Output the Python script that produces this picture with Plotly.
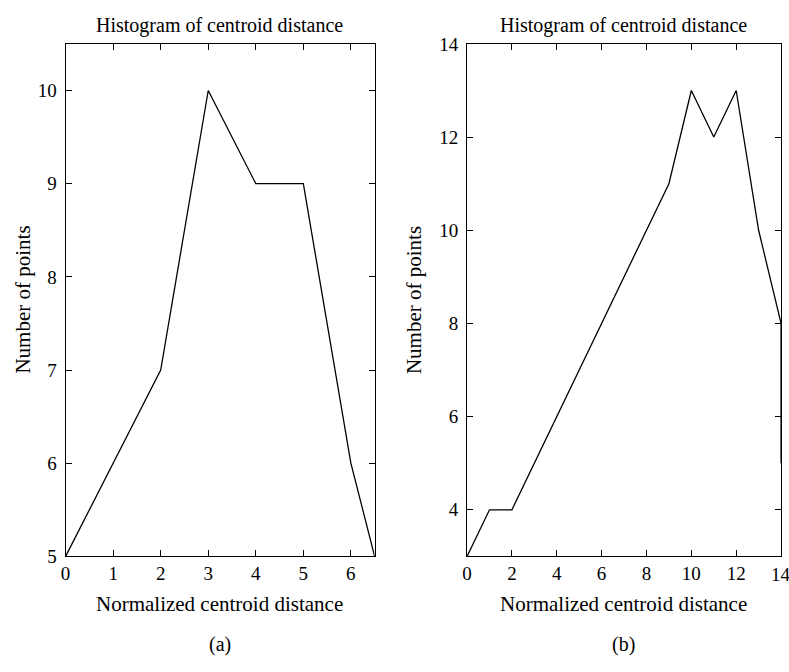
import plotly.graph_objects as go

# Panel (a)
xa = [0, 1, 2, 3, 4, 5, 6, 6.5]
ya = [5, 6, 7, 10, 9, 9, 6, 5]
# Panel (b)
xb = [0, 1, 2, 3, 4, 5, 6, 7, 8, 9, 10, 11, 12, 13, 14, 14]
yb = [3, 4, 4, 5, 6, 7, 8, 9, 10, 11, 13, 12, 13, 10, 8, 5]

xticks_a = [0, 1, 2, 3, 4, 5, 6]
yticks_a = [5, 6, 7, 8, 9, 10]
xticks_b = [0, 2, 4, 6, 8, 10, 12, 14]
yticks_b = [4, 6, 8, 10, 12, 14]

title_text = "Histogram of centroid distance"
xtitle = "Normalized centroid distance"
ytitle = "Number of points"
FONT = "Liberation Serif"

fig = go.Figure()
fig.add_trace(go.Scatter(x=xa, y=ya, mode="lines", line=dict(color="black", width=1.3),
                         xaxis="x", yaxis="y", showlegend=False, cliponaxis=True))
fig.add_trace(go.Scatter(x=xb, y=yb, mode="lines", line=dict(color="black", width=1.3),
                         xaxis="x2", yaxis="y2", showlegend=False, cliponaxis=True))

H = 672
W = 789
ydom = [1 - 564 / H, 1 - 35 / H]
tickfont = dict(family=FONT, size=19, color="black")
axis_common = dict(showline=True, linecolor="black", linewidth=1.2, mirror="ticks",
                   ticks="inside", ticklen=6, tickcolor="black", showgrid=False,
                   zeroline=False, tickfont=tickfont)

fig.update_layout(
    width=W, height=H, margin=dict(l=0, r=0, t=0, b=0),
    paper_bgcolor="white", plot_bgcolor="white",
    xaxis=dict(domain=[61 / W, 372 / W], range=[0, 6.5], tickvals=xticks_a,
               anchor="y", ticklabelstandoff=0, **axis_common),
    yaxis=dict(domain=ydom, range=[5, 10.5], tickvals=yticks_a,
               anchor="x", ticklabelstandoff=4, **axis_common),
    xaxis2=dict(domain=[465 / W, 781 / W], range=[0, 14], tickvals=xticks_b,
                ticktext=[str(v) if v != 14 else "" for v in xticks_b],
                anchor="y2", ticklabelstandoff=0, **axis_common),
    yaxis2=dict(domain=ydom, range=[3, 14], tickvals=yticks_b,
                anchor="x2", ticklabelstandoff=4, **axis_common),
)

# last x tick label of panel (b): runs past the page edge, as in the reference
fig.add_annotation(text=str(xticks_b[-1]), x=xticks_b[-1], xref="x2",
                   y=1 - 583 / H, yref="paper", showarrow=False,
                   xanchor="center", yanchor="middle", font=tickfont)

def ann(text, x, y, size=21, angle=0):
    fig.add_annotation(text=text, x=x / W, y=1 - y / H, xref="paper", yref="paper",
                       showarrow=False, textangle=angle,
                       font=dict(family=FONT, size=size, color="black"),
                       xanchor="center", yanchor="middle")

ann(title_text, 216, 16, size=20)
ann(title_text, 622, 16, size=20)
ann(xtitle, 216, 613)
ann(xtitle, 622, 613)
ann(ytitle, 18, 299, angle=-90)
ann(ytitle, 411, 299, angle=-90)
ann("(a)", 216, 655, size=20)
ann("(b)", 622, 655, size=20)

fig.write_html("out.html")
